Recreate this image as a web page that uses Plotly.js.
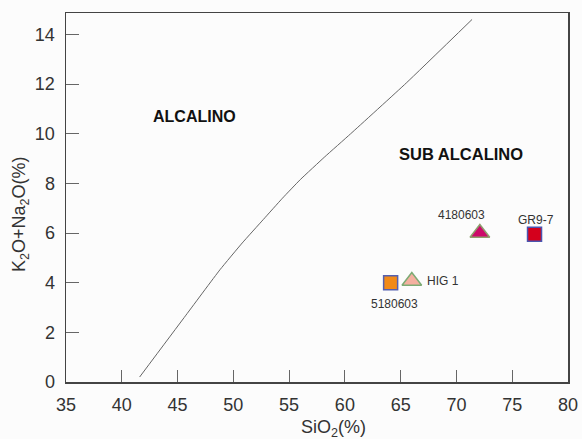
<!DOCTYPE html>
<html>
<head>
<meta charset="utf-8">
<script src="https://cdn.plot.ly/plotly-3.0.1.min.js"></script>
<style>html,body{margin:0;padding:0;background:#fcfcfc;}#chart{width:582px;height:439px;}</style>
</head>
<body>
<div id="chart"></div>
<script>
// Boundary curve (alcalino / sub alcalino)
const curveSiO2 = [41.6, 45.6, 48.8, 50.8, 52.7, 54.4, 56.0, 58.2, 60.5, 65.5, 71.4];
const curveAlk  = [0.2, 2.6, 4.52, 5.6, 6.55, 7.4, 8.15, 9.07, 9.99, 12.04, 14.6];

// Samples
const sampleNames = ["5180603", "HIG 1", "4180603", "GR9-7"];
const sampleSiO2  = [64.1, 66.0, 72.1, 77.0];
const sampleAlk   = [4.0, 4.07, 6.0, 5.95];
const sampleSymbol = ["square", "triangle-up", "triangle-up", "square"];
const sampleFill   = ["#f28a18", "#f4b0a0", "#cc0a6a", "#d4001c"];
const sampleLine   = ["#5560b0", "#7cab74", "#8e9e6c", "#4a55b0"];

const xTicks = [35, 40, 45, 50, 55, 60, 65, 70, 75, 80];
const yTicks = [0, 2, 4, 6, 8, 10, 12, 14];

const font = "Liberation Sans, Arial, sans-serif";

// label offsets (pixels) relative to each sample
const labelStyle = [
  {xanchor: "center", xshift: 4, yshift: -21},
  {xanchor: "left", xshift: 13, yshift: 0},
  {xanchor: "center", xshift: -18, yshift: 18},
  {xanchor: "center", xshift: 1, yshift: 14}
];

const traces = [
  {
    x: curveSiO2, y: curveAlk, mode: "lines", type: "scatter",
    line: {color: "#666", width: 1, shape: "spline", smoothing: 0.4},
    hoverinfo: "skip", showlegend: false
  },
  {
    x: sampleSiO2, y: sampleAlk, type: "scatter", mode: "markers",
    marker: {symbol: sampleSymbol, opacity: 1,
             size: sampleSymbol.map(s => s === "square" ? 14 : 17),
             color: sampleFill, line: {color: sampleLine, width: 1.5}},
    showlegend: false, cliponaxis: false
  }
];

const annotations = [
  {x: 46.5, y: 10.7, xref: "x", yref: "y", text: "<b>ALCALINO</b>", showarrow: false,
   font: {family: font, size: 16, color: "#111"}},
  {x: 70.45, y: 9.2, xref: "x", yref: "y", text: "<b>SUB ALCALINO</b>", showarrow: false,
   font: {family: font, size: 16.5, color: "#111"}},
  {x: 0.532, y: -0.1247, xref: "paper", yref: "paper", xanchor: "center", yanchor: "middle",
   text: "SiO<sub>2</sub>(%)", showarrow: false, font: {family: font, size: 18, color: "#333"}},
  {x: -0.0916, y: 0.455, xref: "paper", yref: "paper", xanchor: "center", yanchor: "middle",
   textangle: -90, text: "K<sub>2</sub>O+Na<sub>2</sub>O(%)", showarrow: false,
   font: {family: font, size: 18, color: "#333"}}
];
for (let i = 0; i < sampleNames.length; i++) {
  annotations.push(Object.assign({
    x: sampleSiO2[i], y: sampleAlk[i], xref: "x", yref: "y", yanchor: "middle",
    text: sampleNames[i], showarrow: false,
    font: {family: font, size: 12, color: "#333"}
  }, labelStyle[i]));
}

const layout = {
  width: 582, height: 439,
  margin: {l: 66, r: 14, t: 13, b: 57},
  paper_bgcolor: "#fcfcfc", plot_bgcolor: "#fcfcfc",
  font: {family: font, color: "#333"},
  xaxis: {
    range: [35, 80], tickvals: xTicks, ticks: "inside", ticklen: 12, tickcolor: "#666", tickwidth: 1,
    showgrid: false, zeroline: false, showline: true, mirror: true, linecolor: "#444", linewidth: 1.5,
    tickfont: {size: 18, color: "#333"}, ticklabelstandoff: 6
  },
  yaxis: {
    range: [0, 14.86], tickvals: yTicks, ticks: "inside", ticklen: 13, tickcolor: "#666", tickwidth: 1,
    showgrid: false, zeroline: false, showline: true, mirror: true, linecolor: "#444", linewidth: 1.5,
    tickfont: {size: 18, color: "#333"}, ticklabelstandoff: 6
  },
  annotations: annotations
};

Plotly.newPlot("chart", traces, layout, {displayModeBar: false, staticPlot: true});
</script>
</body>
</html>
